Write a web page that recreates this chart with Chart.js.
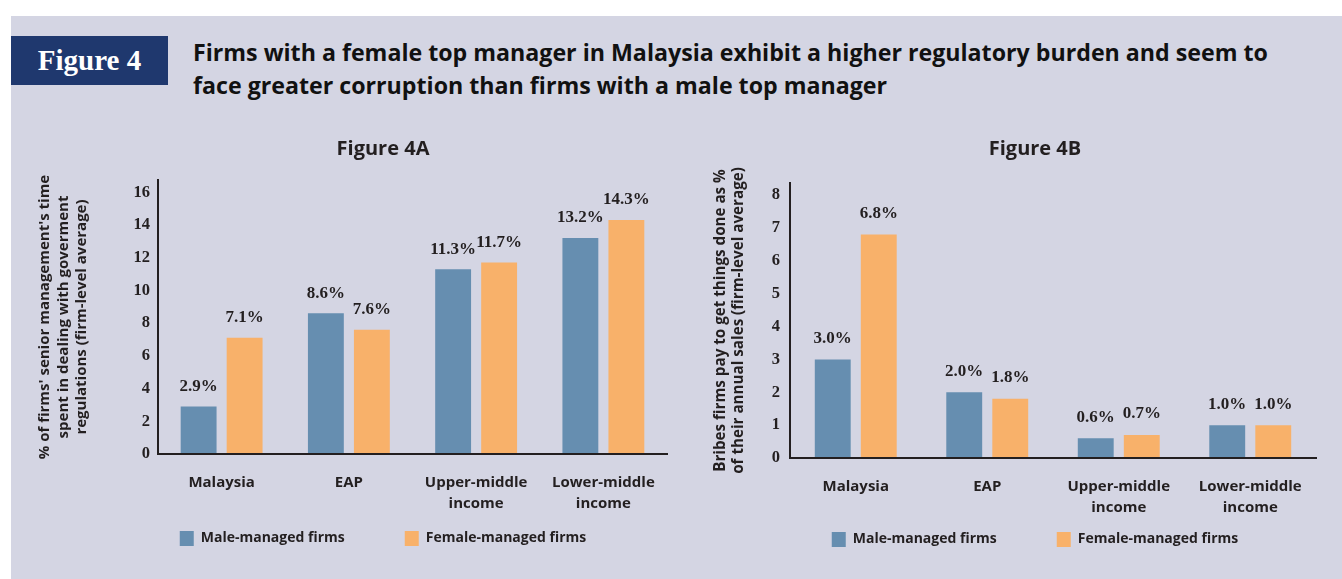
<!DOCTYPE html>
<html><head><meta charset="utf-8">
<script src="https://cdn.jsdelivr.net/npm/chart.js@4.4.1/dist/chart.umd.min.js"></script>
<style>
html,body{margin:0;padding:0;width:1342px;height:579px;overflow:hidden;background:#fff;}
#panel{position:absolute;left:11px;top:16px;width:1331px;height:563px;background:#d4d5e3;}
#figbox{position:absolute;left:11px;top:36px;width:157px;height:49px;background:#1f386e;color:#fff;font:bold 29px "Liberation Serif";display:flex;align-items:center;justify-content:center;}
#title{position:absolute;left:193px;top:36px;font:bold 23.2px "Open Sans";line-height:33px;color:#111;white-space:nowrap;}
canvas{position:absolute;}
#cA{left:25px;top:130px;}
#cB{left:700px;top:130px;}
</style></head>
<body>
<div id="panel"></div>
<div id="figbox">Figure 4</div>
<div id="title">Firms with a female top manager in Malaysia exhibit a higher regulatory burden and seem to<br>face greater corruption than firms with a male top manager</div>
<canvas id="cA" width="716" height="440"></canvas>
<canvas id="cB" width="659" height="440"></canvas>
<script>
// ---- data ----
const categories = ['Malaysia', 'EAP', ['Upper-middle', 'income'], ['Lower-middle', 'income']];
const seriesNames = ['Male-managed firms', 'Female-managed firms'];
const maleTime = [2.9, 8.6, 11.3, 13.2];
const femaleTime = [7.1, 7.6, 11.7, 14.3];
const maleBribes = [3.0, 2.0, 0.6, 1.0];
const femaleBribes = [6.8, 1.8, 0.7, 1.0];
const ticksA = [0, 2, 4, 6, 8, 10, 12, 14, 16];
const ticksB = [0, 1, 2, 3, 4, 5, 6, 7, 8];
const titleA = 'Figure 4A';
const titleB = 'Figure 4B';
const yTitleA = ["% of firms' senior management's time", 'spent in dealing with goverment', 'regulations (firm-level average)'];
const yTitleB = ['Bribes firms pay to get things done as %', 'of their annual sales (firm-level average)'];

const INK = '#231f20';
const BLUE = '#668eb0';
const ORANGE = '#f8b16a';

const valueLabels = {
  id: 'valueLabels',
  afterDatasetsDraw(chart, args, opts) {
    const ctx = chart.ctx;
    ctx.save();
    ctx.font = 'bold 17px "Liberation Serif"';
    ctx.fillStyle = INK;
    ctx.textAlign = 'center';
    ctx.textBaseline = 'middle';
    chart.data.datasets.forEach((ds, i) => {
      chart.getDatasetMeta(i).data.forEach((bar, j) => {
        ctx.fillText(ds.data[j].toFixed(1) + '%', bar.x, bar.y - opts.offset);
      });
    });
    ctx.restore();
  }
};

// give the category labels room to be drawn below the (compact) x axis box
const labelRoom = {
  id: 'labelRoom',
  afterLayout(chart) {
    const x = chart.scales.x;
    x.bottom = x.top + 70;
    x.height = 70;
  }
};

function makeChart(id, male, female, c) {
  return new Chart(document.getElementById(id), {
    type: 'bar',
    data: {
      labels: categories,
      datasets: [
        { label: seriesNames[0], data: male, backgroundColor: BLUE, categoryPercentage: c.catPct, barPercentage: 0.78 },
        { label: seriesNames[1], data: female, backgroundColor: ORANGE, categoryPercentage: c.catPct, barPercentage: 0.78 }
      ]
    },
    options: {
      responsive: false,
      animation: false,
      layout: { padding: { left: 11, right: c.padR, top: 0, bottom: c.padB } },
      plugins: {
        title: { display: true, text: c.title, color: INK, font: { family: 'Open Sans', size: 20, weight: '700', lineHeight: 1.2 }, padding: { top: 7, bottom: c.titlePadB } },
        legend: { position: 'bottom',
          labels: { boxWidth: 14, boxHeight: 15, padding: 60, color: INK, font: { family: 'Open Sans', size: 14, weight: '700' } } },
        tooltip: { enabled: false },
        valueLabels: { offset: c.labelOffset }
      },
      scales: {
        x: {
          grid: { display: false, drawTicks: false },
          border: { display: true, color: INK, width: 2, z: 1 },
          ticks: { padding: 18.5, color: INK, maxRotation: 0, autoSkip: false,
                   font: { family: 'Open Sans', size: 15, weight: '700', lineHeight: 1.4 } },
          afterFit(s) { s.height = c.xH; }
        },
        y: {
          min: 0, max: c.max,
          grid: { display: false, drawTicks: false },
          border: { display: true, color: INK, width: 2, z: 1 },
          ticks: { padding: c.tickPad, color: INK, font: { family: 'Liberation Serif', size: 16.5, weight: 'bold' } },
          afterBuildTicks(s) { s.ticks = c.ticks.map(v => ({ value: v })); },
          afterFit(s) { s.width = c.yW; },
          title: { display: true, text: c.yTitle, color: INK,
                   font: { family: 'Open Sans', size: c.yTitleSize, weight: '700', lineHeight: 18.4 / c.yTitleSize }, padding: { top: 0, bottom: 0 } }
        },
        spacer: {
          type: 'linear', axis: 'y', position: 'right', display: true,
          grid: { display: false, drawTicks: false }, border: { display: false }, ticks: { display: false },
          afterFit(s) { s.width = c.spacer; }
        }
      }
    },
    plugins: [valueLabels, labelRoom]
  });
}

function draw() {
  makeChart('cA', maleTime, femaleTime, { title: titleA, yTitle: yTitleA, ticks: ticksA, max: 16.75, catPct: 0.723,
    padR: 11, padB: 14, spacer: 63, yW: 122, tickPad: 8, titlePadB: 19, xH: 17, labelOffset: 20, yTitleSize: 15 });
  makeChart('cB', maleBribes, femaleBribes, { title: titleB, yTitle: yTitleB, ticks: ticksB, max: 8.37, catPct: 0.70,
    padR: 0, padB: 13, spacer: 43, yW: 79, tickPad: 10, titlePadB: 22, xH: 14, labelOffset: 21, yTitleSize: 15.2 });
}
Promise.all([
  document.fonts.load('600 15px "Open Sans"'),
  document.fonts.load('700 20px "Open Sans"'),
  document.fonts.load('bold 16px "Liberation Serif"')
]).then(draw, draw);
</script>
</body></html>
